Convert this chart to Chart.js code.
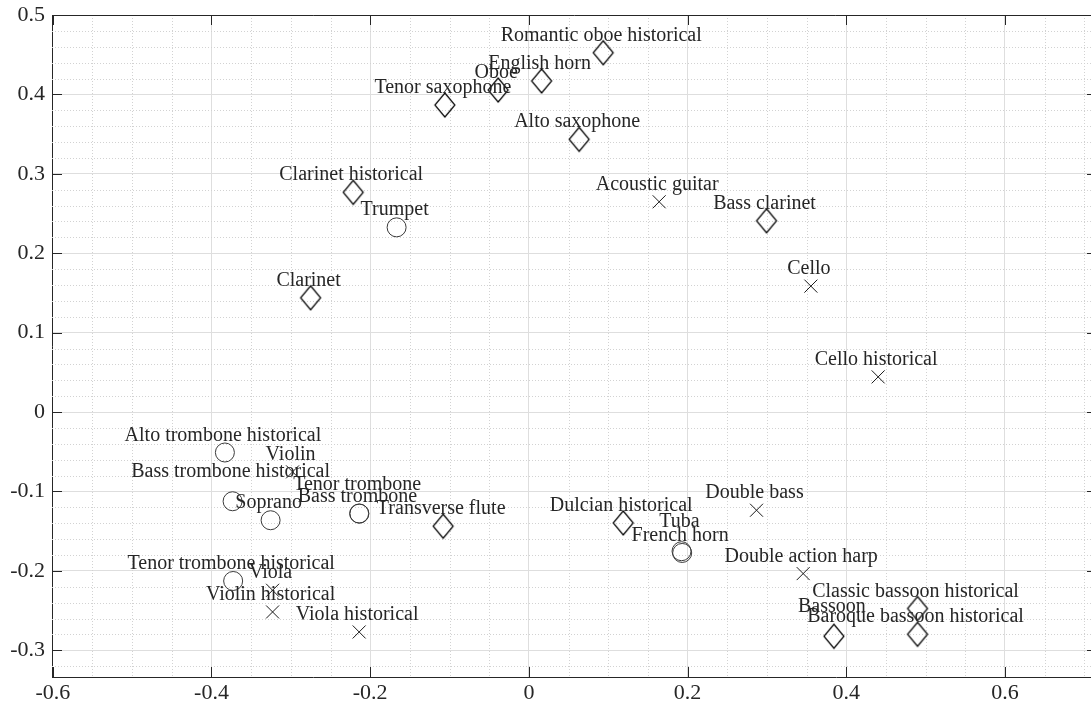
<!DOCTYPE html>
<html>
<head>
<meta charset="utf-8">
<script src="https://cdn.jsdelivr.net/npm/chart.js@4.4.0/dist/chart.umd.min.js"></script>
<style>
  html, body { margin: 0; padding: 0; overflow: hidden; background: #fff; }
  canvas { display: block; }
</style>
</head>
<body>
<canvas id="chart" width="1098" height="704"></canvas>
<script>
// Diamonds: woodwinds
const diamondNames = ['Romantic oboe historical', 'English horn', 'Oboe', 'Tenor saxophone', 'Alto saxophone',
  'Clarinet historical', 'Bass clarinet', 'Clarinet', 'Transverse flute', 'Dulcian historical',
  'Classic bassoon historical', 'Baroque bassoon historical', 'Bassoon'];
const diamondX = [0.0937, 0.016, -0.0387, -0.1059, 0.0634, -0.2214, 0.2995, -0.2751, -0.108, 0.1189, 0.4898, 0.4898, 0.3844];
const diamondY = [0.4525, 0.4169, 0.4055, 0.3866, 0.3434, 0.2767, 0.2409, 0.1439, -0.1437, -0.1396, -0.2474, -0.2798, -0.2823];

// Circles: brass and voice
const circleNames = ['Trumpet', 'Alto trombone historical', 'Bass trombone historical', 'Soprano', 'Tenor trombone',
  'Bass trombone', 'Tuba', 'French horn', 'Tenor trombone historical'];
const circleX = [-0.1667, -0.3831, -0.3734, -0.3255, -0.2139, -0.2136, 0.1924, 0.1932, -0.3727];
const circleY = [0.2326, -0.0509, -0.1123, -0.1362, -0.1277, -0.1279, -0.1752, -0.1774, -0.2127];

// Crosses: strings
const crossNames = ['Acoustic guitar', 'Cello', 'Cello historical', 'Violin', 'Double bass', 'Double action harp',
  'Viola', 'Violin historical', 'Viola historical'];
const crossX = [0.1642, 0.3554, 0.4402, -0.2978, 0.2869, 0.3457, -0.323, -0.323, -0.2139];
const crossY = [0.2648, 0.1586, 0.0443, -0.0753, -0.1236, -0.2034, -0.2244, -0.2517, -0.2769];

const xTickValues = [-0.6, -0.4, -0.2, 0, 0.2, 0.4, 0.6];
const xTickLabels = ['-0.6', '-0.4', '-0.2', '0', '0.2', '0.4', '0.6'];
const yTickValues = [-0.3, -0.2, -0.1, 0, 0.1, 0.2, 0.3, 0.4, 0.5];
const yTickLabels = ['-0.3', '-0.2', '-0.1', '0', '0.1', '0.2', '0.3', '0.4', '0.5'];

// labels that sit one step higher to dodge their neighbours
const raisedLabels = ['Bass trombone historical', 'Tenor trombone', 'Tuba', 'Bassoon'];
const labelLift = 0.015;

const ink = '#262626';
const serif = '"Liberation Serif", "DejaVu Serif", serif';

function toPoints(names, xs, ys) {
    return xs.map((x, i) => ({ x: x, y: ys[i], name: names[i] }));
}

function diamondMarker() {
    const c = document.createElement('canvas');
    c.width = 24;
    c.height = 28;
    const g = c.getContext('2d');
    g.strokeStyle = '#000';
    g.lineWidth = 1.2;
    g.beginPath();
    g.moveTo(12, 2);
    g.lineTo(22, 14);
    g.lineTo(12, 26);
    g.lineTo(2, 14);
    g.closePath();
    g.stroke();
    return c;
}

const framePlugin = {
    id: 'frame',
    beforeDatasetsDraw(chart) {
        const { ctx, chartArea: a, scales: { x, y } } = chart;
        ctx.save();
        ctx.beginPath();
        ctx.rect(a.left, a.top, a.right - a.left, a.bottom - a.top);
        ctx.clip();
        ctx.strokeStyle = '#d2d2d2';
        ctx.lineWidth = 1;
        ctx.setLineDash([1, 2]);
        // minor grid every 0.05 on x, 0.02 on y
        for (let k = -12; k <= 14; k++) {
            if (k % 4 === 0) continue;
            const px = Math.round(x.getPixelForValue(k * 0.05)) + 0.5;
            ctx.beginPath();
            ctx.moveTo(px, a.top);
            ctx.lineTo(px, a.bottom);
            ctx.stroke();
        }
        for (let k = -16; k <= 25; k++) {
            if (k % 5 === 0) continue;
            const py = Math.round(y.getPixelForValue(k * 0.02)) + 0.5;
            ctx.beginPath();
            ctx.moveTo(a.left, py);
            ctx.lineTo(a.right, py);
            ctx.stroke();
        }
        ctx.restore();
    },
    afterDatasetsDraw(chart) {
        const { ctx, chartArea: a, scales: { x, y } } = chart;
        ctx.save();
        // text labels above each marker
        ctx.font = '20px ' + serif;
        ctx.fillStyle = ink;
        ctx.textAlign = 'center';
        ctx.textBaseline = 'alphabetic';
        chart.data.datasets.forEach(ds => {
            ds.data.forEach(p => {
                const lift = raisedLabels.includes(p.name) ? labelLift * 2 : labelLift;
                ctx.fillText(p.name, x.getPixelForValue(p.x) - 2, y.getPixelForValue(p.y + lift));
            });
        });
        // box and inward ticks
        ctx.strokeStyle = ink;
        ctx.lineWidth = 1;
        ctx.beginPath();
        ctx.moveTo(a.left, a.top + 0.5);
        ctx.lineTo(a.right, a.top + 0.5);
        ctx.moveTo(a.right - 0.5, a.top);
        ctx.lineTo(a.right - 0.5, a.bottom);
        xTickValues.forEach(v => {
            const px = Math.round(x.getPixelForValue(v)) + 0.5;
            ctx.moveTo(px, a.bottom);
            ctx.lineTo(px, a.bottom - 10);
            ctx.moveTo(px, a.top);
            ctx.lineTo(px, a.top + 10);
        });
        yTickValues.forEach(v => {
            const py = Math.round(y.getPixelForValue(v)) + 0.5;
            ctx.moveTo(a.left, py);
            ctx.lineTo(a.left + 10, py);
            ctx.moveTo(a.right, py);
            ctx.lineTo(a.right - 10, py);
        });
        ctx.stroke();
        ctx.restore();
    }
};

const tickFont = { family: serif, size: 22 };

new Chart(document.getElementById('chart'), {
    type: 'scatter',
    data: {
        datasets: [
            {
                data: toPoints(diamondNames, diamondX, diamondY),
                pointStyle: diamondMarker(),
                pointRadius: 12
            },
            {
                data: toPoints(circleNames, circleX, circleY),
                pointStyle: 'circle',
                pointRadius: 9.5,
                borderColor: '#3a3a3a',
                borderWidth: 1,
                backgroundColor: 'rgba(0,0,0,0)'
            },
            {
                data: toPoints(crossNames, crossX, crossY),
                pointStyle: 'crossRot',
                pointRadius: 9.2,
                borderColor: '#1a1a1a',
                borderWidth: 1
            }
        ]
    },
    plugins: [framePlugin],
    options: {
        responsive: false,
        animation: false,
        events: [],
        layout: { autoPadding: false, padding: { top: 15, right: 1, left: 0, bottom: 0 } },
        plugins: {
            legend: { display: false },
            tooltip: { enabled: false }
        },
        scales: {
            x: {
                type: 'linear',
                min: -0.601,
                max: 0.716,
                afterBuildTicks: s => { s.ticks = xTickValues.map(v => ({ value: v })); },
                afterFit: s => { s.height = 27; s.paddingLeft = 0; s.paddingRight = 0; },
                ticks: {
                    callback: (v, i) => xTickLabels[i],
                    font: tickFont,
                    color: ink,
                    padding: 3,
                    maxRotation: 0,
                    autoSkip: false
                },
                grid: { color: '#dedede', lineWidth: 1, drawTicks: false },
                border: { color: ink, width: 1 }
            },
            y: {
                type: 'linear',
                min: -0.3336,
                max: 0.5,
                afterBuildTicks: s => { s.ticks = yTickValues.map(v => ({ value: v })); },
                afterFit: s => { s.width = 52; s.paddingTop = 0; s.paddingBottom = 0; },
                ticks: {
                    callback: (v, i) => yTickLabels[i],
                    font: tickFont,
                    color: ink,
                    padding: 7,
                    autoSkip: false
                },
                grid: { color: '#dedede', lineWidth: 1, drawTicks: false },
                border: { color: ink, width: 1 }
            }
        }
    }
});
</script>
</body>
</html>
